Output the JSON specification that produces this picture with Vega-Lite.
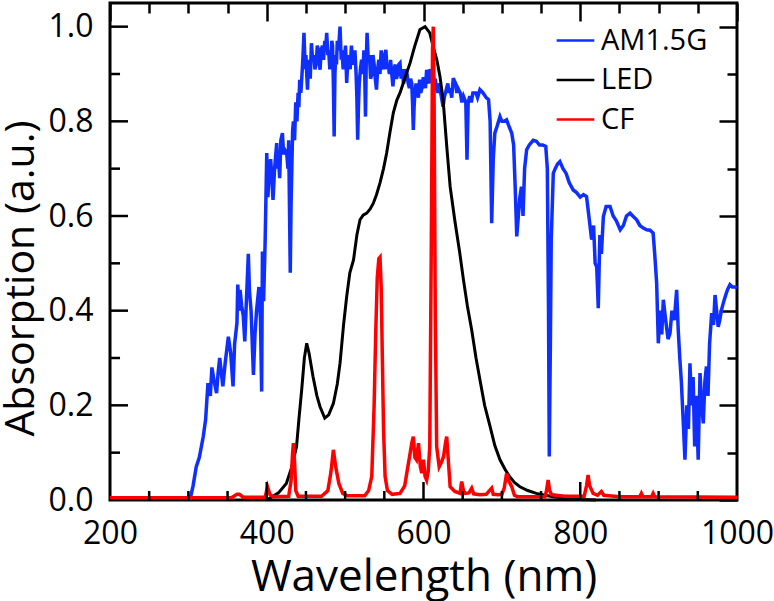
{
  "$schema": "https://vega.github.io/schema/vega-lite/v6.json",
  "width": 627,
  "height": 497,
  "autosize": "none",
  "padding": {"left": 110, "top": 3, "right": 37, "bottom": 101},
  "background": "white",
  "view": {"stroke": "black", "strokeWidth": 3},
  "config": {
    "font": "Open Sans",
    "axis": {
      "domain": false,
      "grid": false,
      "zindex": 1,
      "tickColor": "black",
      "tickWidth": 2.5,
      "labelFont": "Open Sans",
      "labelFontSize": 32,
      "labelColor": "black",
      "titleFont": "Open Sans",
      "titleFontSize": 42,
      "titleFontWeight": "normal",
      "titleColor": "black"
    },
    "legend": {
      "orient": "none",
      "legendX": 445,
      "legendY": 17,
      "symbolType": "stroke",
      "symbolSize": 1421,
      "symbolStrokeWidth": 2.5,
      "labelFont": "Open Sans",
      "labelFontSize": 29,
      "labelColor": "black",
      "labelOffset": 5,
      "rowPadding": 3.5,
      "padding": 0
    }
  },
  "datasets": {
    "am15g": [
      {"w": 302, "a": 0.0}, {"w": 306, "a": 0.03}, {"w": 310, "a": 0.07}, {"w": 314, "a": 0.09},
      {"w": 319, "a": 0.134}, {"w": 322, "a": 0.17}, {"w": 325, "a": 0.247}, {"w": 328, "a": 0.22},
      {"w": 330, "a": 0.28}, {"w": 333, "a": 0.25}, {"w": 336, "a": 0.226}, {"w": 338, "a": 0.27},
      {"w": 340, "a": 0.3}, {"w": 342, "a": 0.27}, {"w": 344, "a": 0.24}, {"w": 347, "a": 0.29},
      {"w": 351, "a": 0.345}, {"w": 354, "a": 0.31}, {"w": 357, "a": 0.24}, {"w": 359, "a": 0.33},
      {"w": 362, "a": 0.374}, {"w": 363, "a": 0.455}, {"w": 365, "a": 0.4}, {"w": 366, "a": 0.444},
      {"w": 368, "a": 0.41}, {"w": 370, "a": 0.39}, {"w": 372, "a": 0.335}, {"w": 374, "a": 0.42},
      {"w": 376.5, "a": 0.52}, {"w": 378, "a": 0.44}, {"w": 380, "a": 0.4}, {"w": 383, "a": 0.264},
      {"w": 385, "a": 0.35}, {"w": 387, "a": 0.4}, {"w": 390, "a": 0.45}, {"w": 392, "a": 0.38},
      {"w": 393.5, "a": 0.229}, {"w": 394.5, "a": 0.525}, {"w": 396, "a": 0.42}, {"w": 398, "a": 0.55},
      {"w": 400, "a": 0.733}, {"w": 401.5, "a": 0.64}, {"w": 403, "a": 0.69}, {"w": 405, "a": 0.72},
      {"w": 406.5, "a": 0.68}, {"w": 408, "a": 0.634}, {"w": 410, "a": 0.7}, {"w": 412.7, "a": 0.754},
      {"w": 414, "a": 0.70}, {"w": 415, "a": 0.72}, {"w": 416.5, "a": 0.68}, {"w": 418, "a": 0.76},
      {"w": 420, "a": 0.775}, {"w": 421.5, "a": 0.73}, {"w": 423, "a": 0.74}, {"w": 425.5, "a": 0.733},
      {"w": 427, "a": 0.70}, {"w": 428, "a": 0.76},
      {"w": 430, "a": 0.48}, {"w": 431, "a": 0.62}, {"w": 432, "a": 0.7}, {"w": 433, "a": 0.78},
      {"w": 434, "a": 0.8}, {"w": 435.5, "a": 0.76}, {"w": 437, "a": 0.84}, {"w": 438.5, "a": 0.8},
      {"w": 440, "a": 0.86}, {"w": 441, "a": 0.83}, {"w": 442, "a": 0.888}, {"w": 443.5, "a": 0.86},
      {"w": 445, "a": 0.9}, {"w": 446, "a": 0.93}, {"w": 447.5, "a": 0.987}, {"w": 449, "a": 0.91},
      {"w": 450, "a": 0.94}, {"w": 451, "a": 0.9}, {"w": 452, "a": 0.867}, {"w": 453, "a": 0.92},
      {"w": 454, "a": 0.93}, {"w": 455.5, "a": 0.89}, {"w": 457, "a": 0.965}, {"w": 458.5, "a": 0.93},
      {"w": 460, "a": 0.94}, {"w": 461.5, "a": 0.91}, {"w": 463, "a": 0.92}, {"w": 464.5, "a": 0.96},
      {"w": 466, "a": 0.95}, {"w": 467, "a": 0.93}, {"w": 468, "a": 0.909}, {"w": 469.5, "a": 0.95},
      {"w": 471, "a": 0.96}, {"w": 472.5, "a": 0.93}, {"w": 474, "a": 0.97}, {"w": 475, "a": 0.95},
      {"w": 476.5, "a": 0.987}, {"w": 478, "a": 0.94}, {"w": 479, "a": 0.95}, {"w": 480.5, "a": 0.91},
      {"w": 482, "a": 0.93}, {"w": 483, "a": 0.97}, {"w": 484, "a": 0.96}, {"w": 485, "a": 0.88},
      {"w": 486, "a": 0.768}, {"w": 487, "a": 0.9}, {"w": 488, "a": 0.94}, {"w": 489, "a": 0.92},
      {"w": 490, "a": 0.97}, {"w": 491.5, "a": 0.95}, {"w": 493.5, "a": 1.0}, {"w": 495, "a": 0.93},
      {"w": 496, "a": 0.95}, {"w": 497.5, "a": 0.91}, {"w": 499, "a": 0.93}, {"w": 500.5, "a": 0.96},
      {"w": 502, "a": 0.881}, {"w": 503.5, "a": 0.93}, {"w": 505, "a": 0.94}, {"w": 506.5, "a": 0.91},
      {"w": 508, "a": 0.96}, {"w": 509.5, "a": 0.93}, {"w": 511, "a": 0.92}, {"w": 512.5, "a": 0.95},
      {"w": 514, "a": 0.9}, {"w": 515, "a": 0.85}, {"w": 516, "a": 0.761}, {"w": 517, "a": 0.83},
      {"w": 518, "a": 0.88}, {"w": 519.5, "a": 0.91}, {"w": 521, "a": 0.93}, {"w": 522.5, "a": 0.9},
      {"w": 524, "a": 0.95}, {"w": 525, "a": 0.9}, {"w": 526, "a": 0.81}, {"w": 527, "a": 0.93},
      {"w": 528, "a": 0.987}, {"w": 529.5, "a": 0.93}, {"w": 531, "a": 0.94}, {"w": 532.5, "a": 0.89},
      {"w": 534, "a": 0.9}, {"w": 535.5, "a": 0.94}, {"w": 537, "a": 0.92}, {"w": 538.5, "a": 0.89},
      {"w": 540, "a": 0.867}, {"w": 541.5, "a": 0.91}, {"w": 543, "a": 0.93}, {"w": 544.5, "a": 0.9},
      {"w": 546, "a": 0.95}, {"w": 547.5, "a": 0.92}, {"w": 549, "a": 0.91}, {"w": 550.5, "a": 0.94},
      {"w": 552, "a": 0.951}, {"w": 553.5, "a": 0.91}, {"w": 555, "a": 0.92}, {"w": 556.5, "a": 0.9},
      {"w": 558, "a": 0.93}, {"w": 559.5, "a": 0.9}, {"w": 561, "a": 0.874}, {"w": 562.5, "a": 0.91},
      {"w": 564, "a": 0.92}, {"w": 565.5, "a": 0.89}, {"w": 567, "a": 0.9}, {"w": 568.5, "a": 0.92},
      {"w": 570, "a": 0.923}, {"w": 571.5, "a": 0.89}, {"w": 573, "a": 0.91}, {"w": 574.5, "a": 0.88},
      {"w": 576, "a": 0.89}, {"w": 577.5, "a": 0.91}, {"w": 579, "a": 0.9}, {"w": 580.5, "a": 0.88},
      {"w": 582, "a": 0.87}, {"w": 583.5, "a": 0.89}, {"w": 585, "a": 0.88}, {"w": 586, "a": 0.84},
      {"w": 587, "a": 0.782}, {"w": 588, "a": 0.83}, {"w": 589, "a": 0.86}, {"w": 590.5, "a": 0.88},
      {"w": 592, "a": 0.87}, {"w": 593.5, "a": 0.85}, {"w": 595, "a": 0.888}, {"w": 596.5, "a": 0.86},
      {"w": 598, "a": 0.87}, {"w": 599.5, "a": 0.89}, {"w": 601, "a": 0.89}, {"w": 602.5, "a": 0.87},
      {"w": 604, "a": 0.909}, {"w": 605.5, "a": 0.89}, {"w": 607, "a": 0.88}, {"w": 608.5, "a": 0.91},
      {"w": 610, "a": 0.9}, {"w": 611, "a": 0.88}, {"w": 612, "a": 0.905}, {"w": 613.5, "a": 0.88},
      {"w": 615, "a": 0.89}, {"w": 616.5, "a": 0.87}, {"w": 618, "a": 0.86}, {"w": 619.5, "a": 0.88},
      {"w": 621, "a": 0.87}, {"w": 623, "a": 0.85}, {"w": 625, "a": 0.831}, {"w": 626.5, "a": 0.85},
      {"w": 628, "a": 0.86}, {"w": 631, "a": 0.88}, {"w": 632.5, "a": 0.86}, {"w": 634, "a": 0.87},
      {"w": 636, "a": 0.85}, {"w": 638, "a": 0.891}, {"w": 641, "a": 0.88}, {"w": 642.5, "a": 0.86},
      {"w": 644, "a": 0.87}, {"w": 647, "a": 0.86}, {"w": 649, "a": 0.84}, {"w": 651, "a": 0.853},
      {"w": 654, "a": 0.84}, {"w": 655.5, "a": 0.719}, {"w": 657, "a": 0.84}, {"w": 659, "a": 0.853},
      {"w": 661, "a": 0.84}, {"w": 663, "a": 0.86}, {"w": 667, "a": 0.86}, {"w": 669, "a": 0.85},
      {"w": 672, "a": 0.867}, {"w": 676, "a": 0.86}, {"w": 680, "a": 0.85}, {"w": 683, "a": 0.846},
      {"w": 685, "a": 0.8}, {"w": 687, "a": 0.585},
      {"w": 689, "a": 0.72}, {"w": 691, "a": 0.775}, {"w": 694, "a": 0.79}, {"w": 697.6, "a": 0.81},
      {"w": 700, "a": 0.8}, {"w": 703, "a": 0.8}, {"w": 706, "a": 0.803}, {"w": 709, "a": 0.79},
      {"w": 712.6, "a": 0.775}, {"w": 715, "a": 0.75}, {"w": 717, "a": 0.66}, {"w": 719, "a": 0.557},
      {"w": 721, "a": 0.6}, {"w": 723, "a": 0.64}, {"w": 725, "a": 0.662}, {"w": 727, "a": 0.6},
      {"w": 729, "a": 0.7}, {"w": 731.6, "a": 0.74}, {"w": 735, "a": 0.75}, {"w": 740, "a": 0.76},
      {"w": 744, "a": 0.758}, {"w": 748, "a": 0.75}, {"w": 752, "a": 0.75}, {"w": 756, "a": 0.747},
      {"w": 758, "a": 0.7}, {"w": 759.5, "a": 0.4}, {"w": 760.5, "a": 0.092}, {"w": 762, "a": 0.35},
      {"w": 763, "a": 0.55}, {"w": 765.6, "a": 0.69}, {"w": 768, "a": 0.7}, {"w": 771, "a": 0.71},
      {"w": 774, "a": 0.715}, {"w": 778, "a": 0.7}, {"w": 782, "a": 0.69}, {"w": 786, "a": 0.67},
      {"w": 791, "a": 0.655}, {"w": 795, "a": 0.65}, {"w": 800, "a": 0.64}, {"w": 804, "a": 0.645},
      {"w": 808, "a": 0.641}, {"w": 811, "a": 0.6}, {"w": 814.5, "a": 0.55}, {"w": 817, "a": 0.58},
      {"w": 819, "a": 0.5}, {"w": 821, "a": 0.493}, {"w": 823, "a": 0.405}, {"w": 825, "a": 0.56},
      {"w": 827, "a": 0.52}, {"w": 829.5, "a": 0.599}, {"w": 833, "a": 0.62}, {"w": 838, "a": 0.62},
      {"w": 842, "a": 0.6}, {"w": 846, "a": 0.59}, {"w": 851, "a": 0.571}, {"w": 855, "a": 0.58},
      {"w": 859, "a": 0.6}, {"w": 863.5, "a": 0.606}, {"w": 867, "a": 0.6}, {"w": 872, "a": 0.592},
      {"w": 876, "a": 0.58}, {"w": 880, "a": 0.575}, {"w": 884.7, "a": 0.571}, {"w": 889, "a": 0.57},
      {"w": 893, "a": 0.564}, {"w": 895, "a": 0.52}, {"w": 897.5, "a": 0.458}, {"w": 899.6, "a": 0.331},
      {"w": 902, "a": 0.4}, {"w": 904, "a": 0.35}, {"w": 906, "a": 0.423}, {"w": 909, "a": 0.38},
      {"w": 912, "a": 0.34}, {"w": 914.5, "a": 0.352}, {"w": 917, "a": 0.4}, {"w": 920, "a": 0.38},
      {"w": 923, "a": 0.444}, {"w": 925, "a": 0.36}, {"w": 927, "a": 0.3}, {"w": 929, "a": 0.25},
      {"w": 931, "a": 0.18}, {"w": 933.6, "a": 0.085}, {"w": 936, "a": 0.2}, {"w": 938, "a": 0.15},
      {"w": 940, "a": 0.289}, {"w": 942, "a": 0.2}, {"w": 944, "a": 0.26}, {"w": 946, "a": 0.113},
      {"w": 948, "a": 0.22}, {"w": 950.5, "a": 0.085}, {"w": 952.8, "a": 0.268}, {"w": 955, "a": 0.2},
      {"w": 957, "a": 0.162}, {"w": 959, "a": 0.25}, {"w": 961, "a": 0.282}, {"w": 963, "a": 0.22},
      {"w": 965, "a": 0.33}, {"w": 967.7, "a": 0.395}, {"w": 970, "a": 0.37}, {"w": 972, "a": 0.433},
      {"w": 974, "a": 0.4}, {"w": 976, "a": 0.366}, {"w": 978, "a": 0.38}, {"w": 980, "a": 0.4},
      {"w": 982.5, "a": 0.416}, {"w": 985, "a": 0.43}, {"w": 988, "a": 0.445}, {"w": 991, "a": 0.455},
      {"w": 994, "a": 0.45}, {"w": 997, "a": 0.45}, {"w": 1000, "a": 0.448}
    ],
    "led": [
      {"w": 400, "a": 0.0}, {"w": 404, "a": 0.004}, {"w": 415, "a": 0.015}, {"w": 425, "a": 0.035},
      {"w": 432, "a": 0.07}, {"w": 438, "a": 0.113}, {"w": 441, "a": 0.17}, {"w": 444.6, "a": 0.233},
      {"w": 448, "a": 0.3}, {"w": 451, "a": 0.331}, {"w": 454, "a": 0.31}, {"w": 459, "a": 0.261},
      {"w": 464, "a": 0.22}, {"w": 468, "a": 0.197}, {"w": 474, "a": 0.173}, {"w": 479, "a": 0.18},
      {"w": 485, "a": 0.204}, {"w": 490, "a": 0.245}, {"w": 493.5, "a": 0.289}, {"w": 498, "a": 0.37},
      {"w": 502, "a": 0.43}, {"w": 506, "a": 0.48}, {"w": 510.7, "a": 0.507}, {"w": 515, "a": 0.56},
      {"w": 519, "a": 0.592}, {"w": 523, "a": 0.602}, {"w": 527.6, "a": 0.606}, {"w": 532, "a": 0.615},
      {"w": 536, "a": 0.627}, {"w": 540, "a": 0.645}, {"w": 544.5, "a": 0.67}, {"w": 549, "a": 0.7},
      {"w": 553, "a": 0.733}, {"w": 557, "a": 0.775}, {"w": 561.5, "a": 0.818}, {"w": 566, "a": 0.845},
      {"w": 570, "a": 0.86}, {"w": 576, "a": 0.89}, {"w": 582.8, "a": 0.923}, {"w": 589, "a": 0.96},
      {"w": 595.5, "a": 0.994}, {"w": 602, "a": 1.0}, {"w": 608, "a": 0.987}, {"w": 612, "a": 0.96},
      {"w": 617, "a": 0.93}, {"w": 621, "a": 0.895}, {"w": 625, "a": 0.846}, {"w": 630, "a": 0.74},
      {"w": 634, "a": 0.662}, {"w": 640, "a": 0.59}, {"w": 646, "a": 0.525}, {"w": 651, "a": 0.465},
      {"w": 656, "a": 0.41}, {"w": 661.5, "a": 0.359}, {"w": 667, "a": 0.3}, {"w": 672, "a": 0.254},
      {"w": 678, "a": 0.2}, {"w": 685, "a": 0.155}, {"w": 691, "a": 0.115}, {"w": 697.6, "a": 0.085},
      {"w": 704, "a": 0.065}, {"w": 710, "a": 0.049}, {"w": 716, "a": 0.037}, {"w": 723, "a": 0.028},
      {"w": 733, "a": 0.02}, {"w": 744, "a": 0.014}, {"w": 755, "a": 0.01}, {"w": 765.6, "a": 0.007},
      {"w": 780, "a": 0.004}, {"w": 800, "a": 0.001}, {"w": 820, "a": 0.0}
    ],
    "cf": [
      {"w": 200, "a": 0.005}, {"w": 300, "a": 0.005}, {"w": 355, "a": 0.005}, {"w": 362, "a": 0.012},
      {"w": 365, "a": 0.012}, {"w": 370, "a": 0.006}, {"w": 398, "a": 0.006}, {"w": 401, "a": 0.028},
      {"w": 404, "a": 0.012}, {"w": 408, "a": 0.007}, {"w": 428, "a": 0.008}, {"w": 431, "a": 0.04},
      {"w": 433, "a": 0.1}, {"w": 434, "a": 0.12}, {"w": 435.5, "a": 0.08}, {"w": 437, "a": 0.02},
      {"w": 440, "a": 0.008}, {"w": 470, "a": 0.008}, {"w": 478, "a": 0.02}, {"w": 482, "a": 0.06},
      {"w": 485, "a": 0.106}, {"w": 488, "a": 0.07}, {"w": 492, "a": 0.035}, {"w": 497, "a": 0.014},
      {"w": 503, "a": 0.009}, {"w": 525, "a": 0.009}, {"w": 530, "a": 0.02}, {"w": 534, "a": 0.05},
      {"w": 537, "a": 0.2}, {"w": 539, "a": 0.35}, {"w": 541, "a": 0.47}, {"w": 543, "a": 0.51},
      {"w": 544.5, "a": 0.513}, {"w": 546, "a": 0.45}, {"w": 547.5, "a": 0.3}, {"w": 549, "a": 0.15},
      {"w": 551, "a": 0.05}, {"w": 554, "a": 0.02}, {"w": 560, "a": 0.012}, {"w": 570, "a": 0.014},
      {"w": 576, "a": 0.03}, {"w": 580, "a": 0.07}, {"w": 583, "a": 0.099}, {"w": 585, "a": 0.12},
      {"w": 587, "a": 0.134}, {"w": 589, "a": 0.09}, {"w": 591, "a": 0.085}, {"w": 593.6, "a": 0.12},
      {"w": 596, "a": 0.07}, {"w": 597.8, "a": 0.057}, {"w": 600, "a": 0.085}, {"w": 602, "a": 0.05},
      {"w": 604, "a": 0.042}, {"w": 606, "a": 0.06}, {"w": 608, "a": 0.113}, {"w": 610, "a": 0.55},
      {"w": 611.5, "a": 0.95}, {"w": 612.5, "a": 1.0}, {"w": 613.5, "a": 0.85}, {"w": 615, "a": 0.4},
      {"w": 616.8, "a": 0.113}, {"w": 620, "a": 0.07}, {"w": 623, "a": 0.08}, {"w": 625.6, "a": 0.092},
      {"w": 628, "a": 0.12}, {"w": 629.6, "a": 0.134}, {"w": 631, "a": 0.1}, {"w": 634, "a": 0.028},
      {"w": 640, "a": 0.018}, {"w": 646.6, "a": 0.014}, {"w": 648.7, "a": 0.039}, {"w": 651, "a": 0.02},
      {"w": 653, "a": 0.014}, {"w": 658, "a": 0.015}, {"w": 661.5, "a": 0.025}, {"w": 664, "a": 0.013},
      {"w": 672, "a": 0.011}, {"w": 680, "a": 0.012}, {"w": 687, "a": 0.025}, {"w": 689, "a": 0.012},
      {"w": 695.5, "a": 0.011}, {"w": 700, "a": 0.012}, {"w": 703, "a": 0.025}, {"w": 706, "a": 0.056},
      {"w": 709, "a": 0.04}, {"w": 712.6, "a": 0.028}, {"w": 716, "a": 0.01}, {"w": 720, "a": 0.007},
      {"w": 755, "a": 0.007}, {"w": 757, "a": 0.02}, {"w": 759, "a": 0.042}, {"w": 761, "a": 0.02},
      {"w": 763.5, "a": 0.011}, {"w": 780, "a": 0.008}, {"w": 805, "a": 0.008}, {"w": 808, "a": 0.03},
      {"w": 810, "a": 0.053}, {"w": 812, "a": 0.03}, {"w": 816.5, "a": 0.014}, {"w": 822, "a": 0.01},
      {"w": 827, "a": 0.018}, {"w": 830, "a": 0.01}, {"w": 850, "a": 0.007}, {"w": 876, "a": 0.007},
      {"w": 878, "a": 0.014}, {"w": 880, "a": 0.007}, {"w": 891, "a": 0.007}, {"w": 893, "a": 0.014},
      {"w": 895, "a": 0.007}, {"w": 1000, "a": 0.006}
    ],
    "xmajor": [{"w": 400}, {"w": 600}, {"w": 800}],
    "xminor": [{"w": 250}, {"w": 300}, {"w": 350}, {"w": 450}, {"w": 500}, {"w": 550}, {"w": 650}, {"w": 700}, {"w": 750}, {"w": 850}, {"w": 900}, {"w": 950}],
    "ymajor": [{"a": 0.2}, {"a": 0.4}, {"a": 0.6}, {"a": 0.8}, {"a": 1.0}],
    "yminor": [{"a": 0.1}, {"a": 0.3}, {"a": 0.5}, {"a": 0.7}, {"a": 0.9}],
    "frame": [{"w": 200, "a": 0}]
  },
  "layer": [
    {
      "layer": [
        {
          "data": {"name": "am15g"},
          "mark": {"type": "line", "strokeWidth": 3.5, "interpolate": "linear", "strokeJoin": "miter"},
          "encoding": {
            "x": {
              "field": "w", "type": "quantitative", "title": "Wavelength (nm)",
              "scale": {"domain": [200, 1000], "nice": false},
              "axis": {
                "orient": "bottom",
                "ticks": false,
                "values": [200, 400, 600, 800, 1000],
                "labelExpr": "format(datum.value, 'd')",
                "labelPadding": 43,
                "labelBaseline": "alphabetic",
                "labelFlush": false,
                "labelOverlap": false,
                "titleBaseline": "alphabetic",
                "titleFontSize": 44,
                "titleY": 90
              }
            },
            "y": {
              "field": "a", "type": "quantitative", "title": "Absorption (a.u.)",
              "scale": {"domain": [0, 1.05], "nice": false},
              "axis": {
                "orient": "left",
                "ticks": false,
                "values": [0, 0.2, 0.4, 0.6, 0.8, 1.0],
                "format": ".1f",
                "labelPadding": 17,
                "labelFlush": false,
                "labelOverlap": false,
                "titleBaseline": "alphabetic",
                "titleFontSize": 41,
                "titleX": -77,
                "titleY": 275,
                "titleAngle": -90
              }
            },
            "color": {
              "datum": "AM1.5G", "type": "nominal",
              "scale": {"domain": ["AM1.5G", "LED", "CF"], "range": ["#0f2fff", "#000000", "#ff0000"]},
              "legend": {"title": null}
            }
          }
        },
        {
          "data": {"name": "led"},
          "mark": {"type": "line", "strokeWidth": 3, "interpolate": "linear"},
          "encoding": {
            "x": {"field": "w", "type": "quantitative"},
            "y": {"field": "a", "type": "quantitative"},
            "color": {"datum": "LED", "type": "nominal"}
          }
        },
        {
          "data": {"name": "cf"},
          "mark": {"type": "line", "strokeWidth": 3.5, "interpolate": "linear"},
          "encoding": {
            "x": {"field": "w", "type": "quantitative"},
            "y": {"field": "a", "type": "quantitative"},
            "color": {"datum": "CF", "type": "nominal"}
          }
        },
        {
          "data": {"name": "xmajor"},
          "mark": {"type": "rule", "color": "black", "strokeWidth": 2.5},
          "encoding": {
            "x": {"field": "w", "type": "quantitative"},
            "y": {"datum": 0},
            "y2": {"datum": 0.038}
          }
        },
        {
          "data": {"name": "xminor"},
          "mark": {"type": "rule", "color": "black", "strokeWidth": 2.5},
          "encoding": {
            "x": {"field": "w", "type": "quantitative"},
            "y": {"datum": 0},
            "y2": {"datum": 0.019}
          }
        },
        {
          "data": {"name": "ymajor"},
          "mark": {"type": "rule", "color": "black", "strokeWidth": 2.5},
          "encoding": {
            "y": {"field": "a", "type": "quantitative"},
            "x": {"datum": 200},
            "x2": {"datum": 223}
          }
        },
        {
          "data": {"name": "yminor"},
          "mark": {"type": "rule", "color": "black", "strokeWidth": 2.5},
          "encoding": {
            "y": {"field": "a", "type": "quantitative"},
            "x": {"datum": 200},
            "x2": {"datum": 212.8}
          }
        }
      ]
    },
    {
      "data": {"name": "frame"},
      "mark": {"type": "point", "opacity": 0},
      "encoding": {
        "x": {
          "field": "w", "type": "quantitative",
          "scale": {"domain": [200, 1000], "nice": false},
          "axis": {
            "orient": "top", "title": null, "labels": false,
            "values": [200, 250, 300, 350, 400, 450, 500, 550, 600, 650, 700, 750, 800, 850, 900, 950, 1000],
            "tickSize": {"condition": {"test": "datum.value % 200 === 0", "value": -18}, "value": -10}
          }
        },
        "y": {
          "field": "a", "type": "quantitative",
          "scale": {"domain": [0, 1.05], "nice": false},
          "axis": {
            "orient": "right", "title": null, "labels": false,
            "values": [0, 0.1, 0.2, 0.3, 0.4, 0.5, 0.6, 0.7, 0.8, 0.9, 1.0],
            "tickSize": {"condition": {"test": "round(datum.value * 10) % 2 === 0", "value": -18}, "value": -10}
          }
        }
      }
    }
  ],
  "resolve": {"scale": {"x": "independent", "y": "independent"}}
}
